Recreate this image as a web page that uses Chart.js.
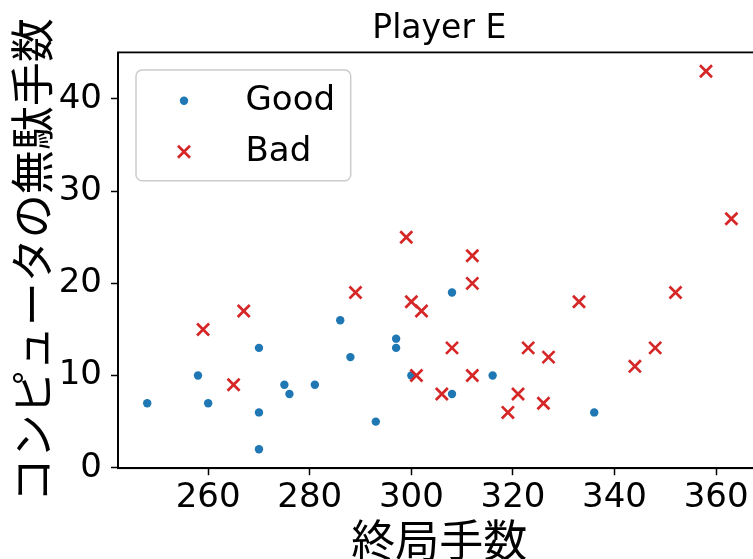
<!DOCTYPE html>
<html>
<head>
<meta charset="utf-8">
<script src="https://cdn.jsdelivr.net/npm/chart.js@4/dist/chart.umd.min.js"></script>
<style>
  html, body { margin: 0; padding: 0; background: #fff; overflow: hidden; }
  #wrap { width: 780px; height: 559px; }
</style>
</head>
<body>
<div id="wrap"><canvas id="c" width="780" height="559"></canvas></div>
<script>
// Game length (moves) and wasted computer moves, per game
const goodMoves = [248, 258, 260, 270, 270, 270, 275, 276, 281, 286, 288, 293, 297, 297, 300, 308, 308, 316, 336];
const goodWaste = [7, 10, 7, 13, 6, 2, 9, 8, 9, 16, 12, 5, 14, 13, 10, 19, 8, 10, 6];
const badMoves = [259, 265, 267, 289, 299, 300, 301, 302, 306, 308, 312, 312, 312, 319, 321, 323, 326, 327, 333, 344, 348, 352, 358, 363];
const badWaste = [15, 9, 17, 19, 25, 18, 10, 17, 8, 13, 23, 20, 10, 6, 8, 13, 7, 12, 18, 11, 13, 19, 43, 27];
const xTicks = [260, 280, 300, 320, 340, 360];
const yTicks = [0, 10, 20, 30, 40];
const chartTitle = 'Player E';

const TICK_FONT = 'DejaVu Sans';
const CJK_FONT = 'Noto Sans CJK JP';

// Title centred over the plot area, axes frame, and a boxed legend in the upper-left
const frameAndLegend = {
  id: 'frameAndLegend',
  afterDatasetsDraw(chart) {
    const { ctx, chartArea: a } = chart;
    ctx.save();

    ctx.fillStyle = '#000';
    ctx.font = '33px "' + TICK_FONT + '"';
    ctx.textAlign = 'center';
    ctx.textBaseline = 'alphabetic';
    ctx.fillText(chartTitle, (a.left + a.right) / 2, a.top - 14.4);

    ctx.strokeStyle = '#000';
    ctx.lineWidth = 1.8;
    ctx.strokeRect(a.left, a.top, a.right - a.left, a.bottom - a.top);

    const bx = a.left + 18, by = a.top + 17.6, bw = 214.7, bh = 110.7;
    ctx.beginPath();
    ctx.roundRect(bx, by, bw, bh, 6);
    ctx.fillStyle = 'rgba(255,255,255,0.8)';
    ctx.fill();
    ctx.strokeStyle = '#cccccc';
    ctx.lineWidth = 1.5;
    ctx.stroke();

    chart.data.datasets.forEach((ds, i) => {
      const my = by + 30.7 + i * 51;
      ctx.fillStyle = ds.backgroundColor;
      ctx.strokeStyle = ds.borderColor;
      ctx.lineWidth = ds.borderWidth;
      Chart.helpers.drawPoint(ctx, {
        pointStyle: ds.pointStyle,
        radius: ds.pointRadius,
        borderWidth: ds.borderWidth,
        rotation: 0
      }, bx + 48, my);
      ctx.fillStyle = '#000';
      ctx.font = '34px "' + TICK_FONT + '"';
      ctx.textAlign = 'left';
      ctx.textBaseline = 'alphabetic';
      ctx.fillText(ds.label, bx + 109.5, by + 39.5 + i * 51);
    });
    ctx.restore();
  }
};

new Chart(document.getElementById('c'), {
  type: 'scatter',
  data: {
    datasets: [
      {
        label: 'Good',
        data: goodMoves.map((x, i) => ({ x, y: goodWaste[i] })),
        pointStyle: 'circle',
        pointRadius: 4.2,
        backgroundColor: '#1f77b4',
        borderColor: '#1f77b4',
        borderWidth: 0,
        order: 1
      },
      {
        label: 'Bad',
        data: badMoves.map((x, i) => ({ x, y: badWaste[i] })),
        pointStyle: 'crossRot',
        pointRadius: 8.5,
        backgroundColor: '#d62728',
        borderColor: '#d62728',
        borderWidth: 2.7,
        order: 0
      }
    ]
  },
  options: {
    responsive: false,
    animation: false,
    devicePixelRatio: 1,
    events: [],
    layout: { padding: { left: 0, right: 19.4, top: 52.4, bottom: 0 } },
    plugins: {
      legend: { display: false },
      tooltip: { enabled: false },
      title: { display: false }
    },
    scales: {
      x: {
        type: 'linear',
        min: 242.25,
        max: 368.75,
        afterFit(s) { s.height = 90.8; },
        afterBuildTicks(s) { s.ticks = xTicks.map(v => ({ value: v })); },
        ticks: { font: { family: TICK_FONT, size: 34 }, color: '#000', padding: 3, maxRotation: 0, autoSkip: false },
        grid: { display: true, drawOnChartArea: false, drawTicks: true, tickLength: 7, tickColor: '#000', tickWidth: 1.5 },
        border: { display: true, color: '#000', width: 1.8 },
        title: {
          display: true,
          text: '終局手数',
          color: '#000',
          font: { family: CJK_FONT, size: 44, lineHeight: '38px' },
          padding: 0
        }
      },
      y: {
        type: 'linear',
        min: -0.05,
        max: 45.05,
        afterFit(s) { s.width = 118; },
        afterBuildTicks(s) { s.ticks = yTicks.map(v => ({ value: v })); },
        ticks: { font: { family: TICK_FONT, size: 34 }, color: '#000', padding: 9, autoSkip: false },
        grid: { display: true, drawOnChartArea: false, drawTicks: true, tickLength: 7, tickColor: '#000', tickWidth: 1.5 },
        border: { display: true, color: '#000', width: 1.8 },
        title: {
          display: true,
          text: 'コンピュータの無駄手数',
          color: '#000',
          font: { family: CJK_FONT, size: 44, lineHeight: '52px' },
          padding: { top: 6, bottom: 0 }
        }
      }
    }
  },
  plugins: [frameAndLegend]
});
</script>
</body>
</html>
